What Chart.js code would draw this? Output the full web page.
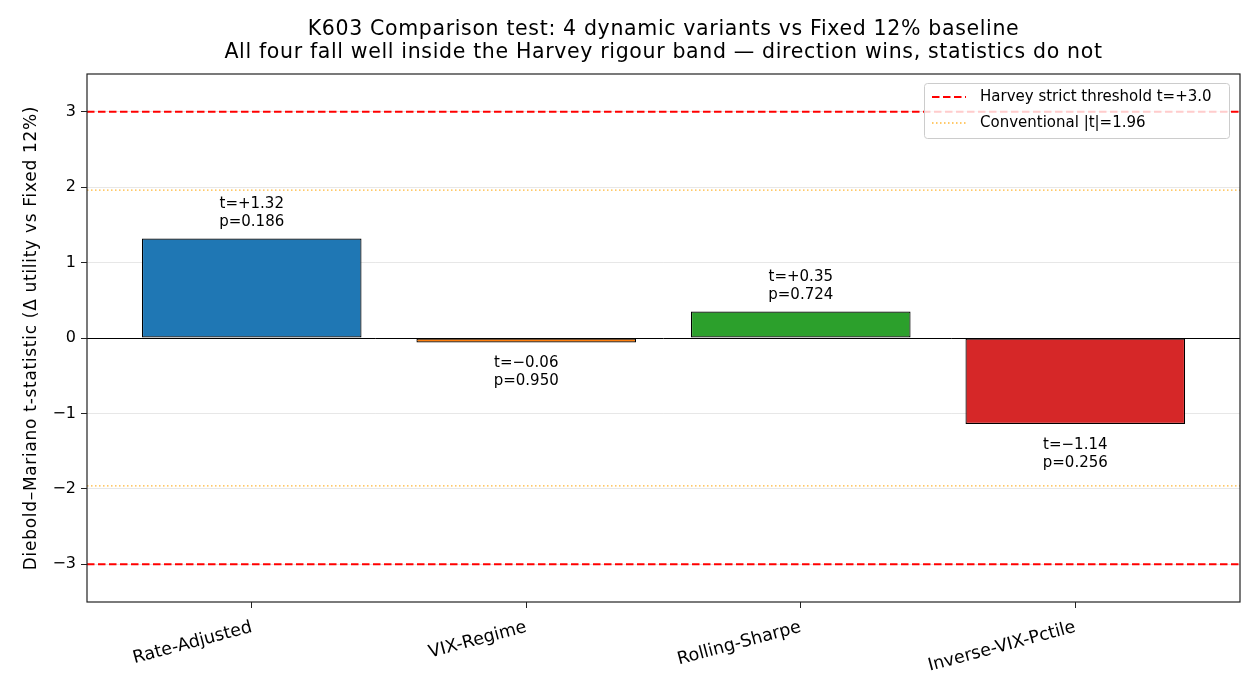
<!DOCTYPE html>
<html>
<head>
<meta charset="utf-8">
<script src="https://cdn.jsdelivr.net/npm/chart.js@4/dist/chart.umd.min.js"></script>
<style>
  body { margin: 0; background: #fff; }
  #wrap { width: 1260px; height: 700px; position: relative; }
</style>
</head>
<body>
<div id="wrap"><canvas id="myChart" width="1260" height="700"></canvas></div>
<script>
const categories = ['Rate-Adjusted', 'VIX-Regime', 'Rolling-Sharpe', 'Inverse-VIX-Pctile'];
const tValues = [1.32, -0.06, 0.35, -1.14];
const pValues = ['0.186', '0.950', '0.724', '0.256'];
const barColors = ['#1f77b4', '#ff7f0e', '#2ca02c', '#d62728'];
const harveyLevel = 3.0;
const conventionalLevel = 1.96;
const yTicks = [-3, -2, -1, 0, 1, 2, 3];

const FONT = "'DejaVu Sans', Verdana, sans-serif";
const DOT_COLOR = 'rgba(255,170,20,0.85)';
const Y_TITLE = 'Diebold\u2013Mariano t-statistic (\u0394 utility vs Fixed 12%)';

function fmtT(v) {
  return 't=' + (v >= 0 ? '+' : '\u2212') + Math.abs(v).toFixed(2);
}

const extras = {
  id: 'extras',
  beforeDatasetsDraw(chart) {
    const { ctx, chartArea: a, scales: { y } } = chart;
    ctx.save();
    // conventional dotted lines
    ctx.strokeStyle = DOT_COLOR;
    ctx.lineWidth = 1.3;
    ctx.setLineDash([1.5, 2.5]);
    [conventionalLevel, -conventionalLevel].forEach(v => {
      const py = y.getPixelForValue(v);
      ctx.beginPath(); ctx.moveTo(a.left, py); ctx.lineTo(a.right, py); ctx.stroke();
    });
    // harvey dashed
    ctx.strokeStyle = '#ff0000';
    ctx.lineWidth = 2;
    ctx.setLineDash([7.5, 3.5]);
    [harveyLevel, -harveyLevel].forEach(v => {
      const py = y.getPixelForValue(v);
      ctx.beginPath(); ctx.moveTo(a.left, py); ctx.lineTo(a.right, py); ctx.stroke();
    });
    ctx.restore();
  },
  afterDatasetsDraw(chart) {
    const { ctx, chartArea: a, scales: { x, y } } = chart;
    ctx.save();
    // zero line
    ctx.strokeStyle = '#000';
    ctx.lineWidth = 1;
    const zy = Math.round(y.getPixelForValue(0)) + 0.5;
    ctx.beginPath(); ctx.moveTo(a.left, zy); ctx.lineTo(a.right, zy); ctx.stroke();

    // annotations
    ctx.fillStyle = '#000';
    ctx.font = '15px ' + FONT;
    ctx.textAlign = 'center';
    ctx.textBaseline = 'middle';
    tValues.forEach((v, i) => {
      const px = x.getPixelForValue(i);
      const py = y.getPixelForValue(v);
      if (v >= 0) {
        ctx.fillText(fmtT(v), px, py - 34);
        ctx.fillText('p=' + pValues[i], px, py - 16);
      } else {
        ctx.fillText(fmtT(v), px, py + 21);
        ctx.fillText('p=' + pValues[i], px, py + 39);
      }
    });

    // frame
    ctx.strokeStyle = '#222';
    ctx.lineWidth = 1.2;
    ctx.strokeRect(a.left, a.top, a.right - a.left, a.bottom - a.top);

    // title
    ctx.font = '20.5px ' + FONT;
    ctx.letterSpacing = '0.65px';
    ctx.textBaseline = 'middle';
    const cx = (a.left + a.right) / 2;
    ctx.fillText('K603 Comparison test: 4 dynamic variants vs Fixed 12% baseline', cx, 30);
    ctx.fillText('All four fall well inside the Harvey rigour band \u2014 direction wins, statistics do not', cx, 53);

    // y title
    ctx.save();
    ctx.translate(32, (a.top + a.bottom) / 2);
    ctx.rotate(-Math.PI / 2);
    ctx.font = '17px ' + FONT;
    ctx.letterSpacing = '0.7px';
    ctx.fillText(Y_TITLE, 0, 0);
    ctx.restore();
    ctx.letterSpacing = '0px';

    // legend
    const lx = 924, ly = 83, lw = 305, lh = 55;
    ctx.fillStyle = 'rgba(255,255,255,0.8)';
    ctx.strokeStyle = '#cccccc';
    ctx.lineWidth = 1;
    ctx.beginPath();
    ctx.roundRect(lx + 0.5, ly + 0.5, lw, lh, 3);
    ctx.fill(); ctx.stroke();
    ctx.lineWidth = 2;
    ctx.strokeStyle = '#ff0000';
    ctx.setLineDash([7.5, 3.5]);
    ctx.beginPath(); ctx.moveTo(932, 97); ctx.lineTo(966, 97); ctx.stroke();
    ctx.lineWidth = 1.3;
    ctx.strokeStyle = DOT_COLOR;
    ctx.setLineDash([1.5, 2.5]);
    ctx.beginPath(); ctx.moveTo(932, 123); ctx.lineTo(966, 123); ctx.stroke();
    ctx.setLineDash([]);
    ctx.fillStyle = '#000';
    ctx.font = '15px ' + FONT;
    ctx.textAlign = 'left';
    ctx.fillText('Harvey strict threshold t=+3.0', 980, 97);
    ctx.fillText('Conventional |t|=1.96', 980, 123);
    ctx.restore();
  }
};

const ctx = document.getElementById('myChart').getContext('2d');
const chart = new Chart(ctx, {
  type: 'bar',
  data: {
    datasets: [{
      data: tValues.map((v, i) => ({ x: i, y: v })),
      backgroundColor: barColors,
      borderColor: '#000',
      borderWidth: 1.2,
      borderSkipped: false,
      barPercentage: 0.8,
      categoryPercentage: 1.0
    }]
  },
  options: {
    responsive: false,
    animation: false,
    layout: { padding: { top: 74, right: 20, left: 0, bottom: 0 } },
    plugins: { legend: { display: false }, tooltip: { enabled: false } },
    scales: {
      x: {
        type: 'linear',
        min: -0.6,
        max: 3.6,
        offset: false,
        afterBuildTicks: s => { s.ticks = categories.map((c, i) => ({ value: i })); },
        afterFit: s => { s.height = 98; },
        grid: { offset: false, drawOnChartArea: false, drawTicks: true, tickLength: 6, color: '#222', tickColor: '#222' },
        border: { display: false },
        ticks: {
          minRotation: 15,
          maxRotation: 15,
          autoSkip: false,
          color: '#000',
          padding: 9,
          font: { size: 17.5, family: FONT },
          callback: v => categories[v]
        }
      },
      y: {
        min: -3.5,
        max: 3.5,
        afterBuildTicks: s => { s.ticks = yTicks.map(v => ({ value: v })); },
        afterFit: s => { s.width = 87; },
        grid: { color: 'rgba(176,176,176,0.3)', tickColor: '#222', tickLength: 6 },
        border: { display: false },
        ticks: {
          color: '#000',
          padding: 5,
          font: { size: 16, family: FONT },
          callback: v => (v < 0 ? '\u2212' + Math.abs(v) : String(v))
        }
      }
    }
  },
  plugins: [extras]
});
</script>
</body>
</html>
